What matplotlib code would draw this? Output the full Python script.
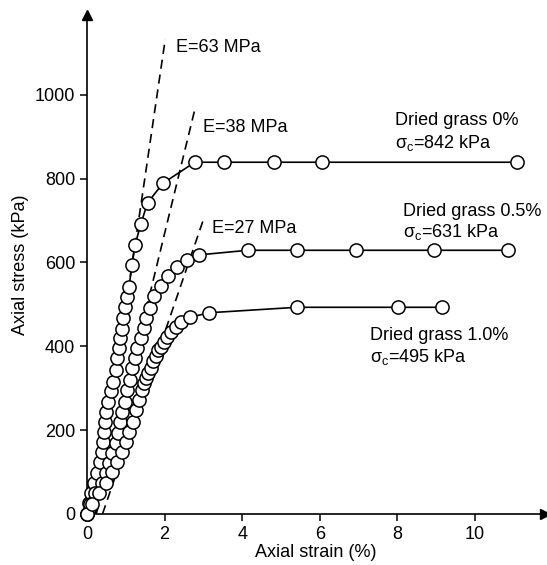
import matplotlib
matplotlib.use("Agg")
import matplotlib.pyplot as plt

plt.rcParams['font.family'] = ['Liberation Sans', 'DejaVu Sans']
plt.rcParams['mathtext.fontset'] = 'custom'
plt.rcParams['mathtext.rm'] = 'Liberation Sans'

# stress-strain data (strain in %, stress in kPa)
strain_0 = [0, 0.05, 0.1, 0.18, 0.27, 0.34, 0.38, 0.42, 0.44, 0.47, 0.50, 0.55, 0.61, 0.68,
            0.74, 0.78, 0.83, 0.85, 0.90, 0.94, 0.97, 1.03, 1.09, 1.15, 1.24, 1.39, 1.56, 1.96,
            2.78, 3.52, 4.83, 6.07, 11.08]
stress_0 = [0, 26, 49, 73, 97, 125, 149, 172, 196, 220, 244, 268, 294, 316,
            344, 372, 396, 420, 442, 467, 494, 518, 542, 594, 642, 692, 742, 789,
            839, 839, 839, 839, 839]

strain_05 = [0, 0.09, 0.2, 0.4, 0.5, 0.57, 0.65, 0.74, 0.81, 0.85, 0.91, 0.98, 1.04, 1.1,
             1.17, 1.24, 1.3, 1.38, 1.47, 1.53, 1.62, 1.73, 1.9, 2.08, 2.33, 2.59, 2.89,
             4.14, 5.41, 6.94, 8.95, 10.84]
stress_05 = [0, 24, 49, 73, 97, 121, 145, 170, 194, 220, 244, 268, 296, 320,
             348, 372, 395, 419, 443, 467, 491, 519, 544, 568, 590, 606, 618,
             629, 629, 629, 629, 629]

strain_10 = [0, 0.12, 0.3, 0.48, 0.65, 0.78, 0.91, 1.0, 1.09, 1.19, 1.27, 1.34, 1.43, 1.47,
             1.53, 1.58, 1.64, 1.71, 1.77, 1.84, 1.90, 1.99, 2.06, 2.16, 2.29, 2.42, 2.65,
             3.15, 5.41, 8.02, 9.14]
stress_10 = [0, 24, 49, 73, 101, 125, 149, 172, 196, 220, 248, 272, 296, 312,
             324, 336, 348, 364, 377, 390, 399, 411, 422, 435, 447, 459, 469,
             480, 493, 493, 493]

# initial modulus lines: slope in kPa per %, x intercept, end point
moduli = [63, 38, 27]
mod_x0 = [0.22, 0.24, 0.4]
mod_top = [1133, 966, 703]
mod_labels = ["E=63 MPa", "E=38 MPa", "E=27 MPa"]
mod_label_pos = [(2.3, 1112), (3.0, 922), (3.22, 680)]

fig = plt.figure(figsize=(5.47, 5.65), dpi=100)
ax = fig.add_axes([0.159, 0.0903, 0.837, 0.883])

for E, x0, top in zip(moduli, mod_x0, mod_top):
    x1 = x0 + top / (E * 10.0)
    ax.plot([x0, x1], [0, top], color='black', lw=1.2, linestyle=(0, (5.5, 3.5)))

for sx, sy in [(strain_0, stress_0), (strain_05, stress_05), (strain_10, stress_10)]:
    ax.plot(sx, sy, color='black', lw=1.2, marker='o', markersize=9.5,
            markerfacecolor='white', markeredgecolor='black', markeredgewidth=1.1,
            clip_on=False, zorder=3)

for lab, (tx, ty) in zip(mod_labels, mod_label_pos):
    ax.text(tx, ty, lab, fontsize=13, va='center', ha='left')

ax.text(7.93, 938, "Dried grass 0%", fontsize=13, va='center')
ax.text(7.93, 885, r"σ$_\mathregular{c}$=842 kPa", fontsize=13, va='center')
ax.text(8.14, 721, "Dried grass 0.5%", fontsize=13, va='center')
ax.text(8.14, 673, r"σ$_\mathregular{c}$=631 kPa", fontsize=13, va='center')
ax.text(7.29, 425, "Dried grass 1.0%", fontsize=13, va='center')
ax.text(7.29, 375, r"σ$_\mathregular{c}$=495 kPa", fontsize=13, va='center')

ax.set_xlim(0, 11.8)
ax.set_ylim(0, 1190)
ax.set_xticks([0, 2, 4, 6, 8, 10])
ax.set_yticks([0, 200, 400, 600, 800, 1000])
ax.tick_params(labelsize=13, width=1.1, length=5, direction='out')
ax.set_xlabel("Axial strain (%)", fontsize=13, labelpad=1)
ax.set_ylabel("Axial stress (kPa)", fontsize=13, labelpad=4)

ax.spines['top'].set_visible(False)
ax.spines['right'].set_visible(False)
ax.spines['left'].set_linewidth(1.2)
ax.spines['bottom'].set_linewidth(1.2)
# arrow heads on the axes
ax.plot(1, 0, ">k", markersize=7, transform=ax.get_yaxis_transform(), clip_on=False)
ax.plot(0, 1, "^k", markersize=7, transform=ax.get_xaxis_transform(), clip_on=False)

fig.savefig("out.png", dpi=100)
